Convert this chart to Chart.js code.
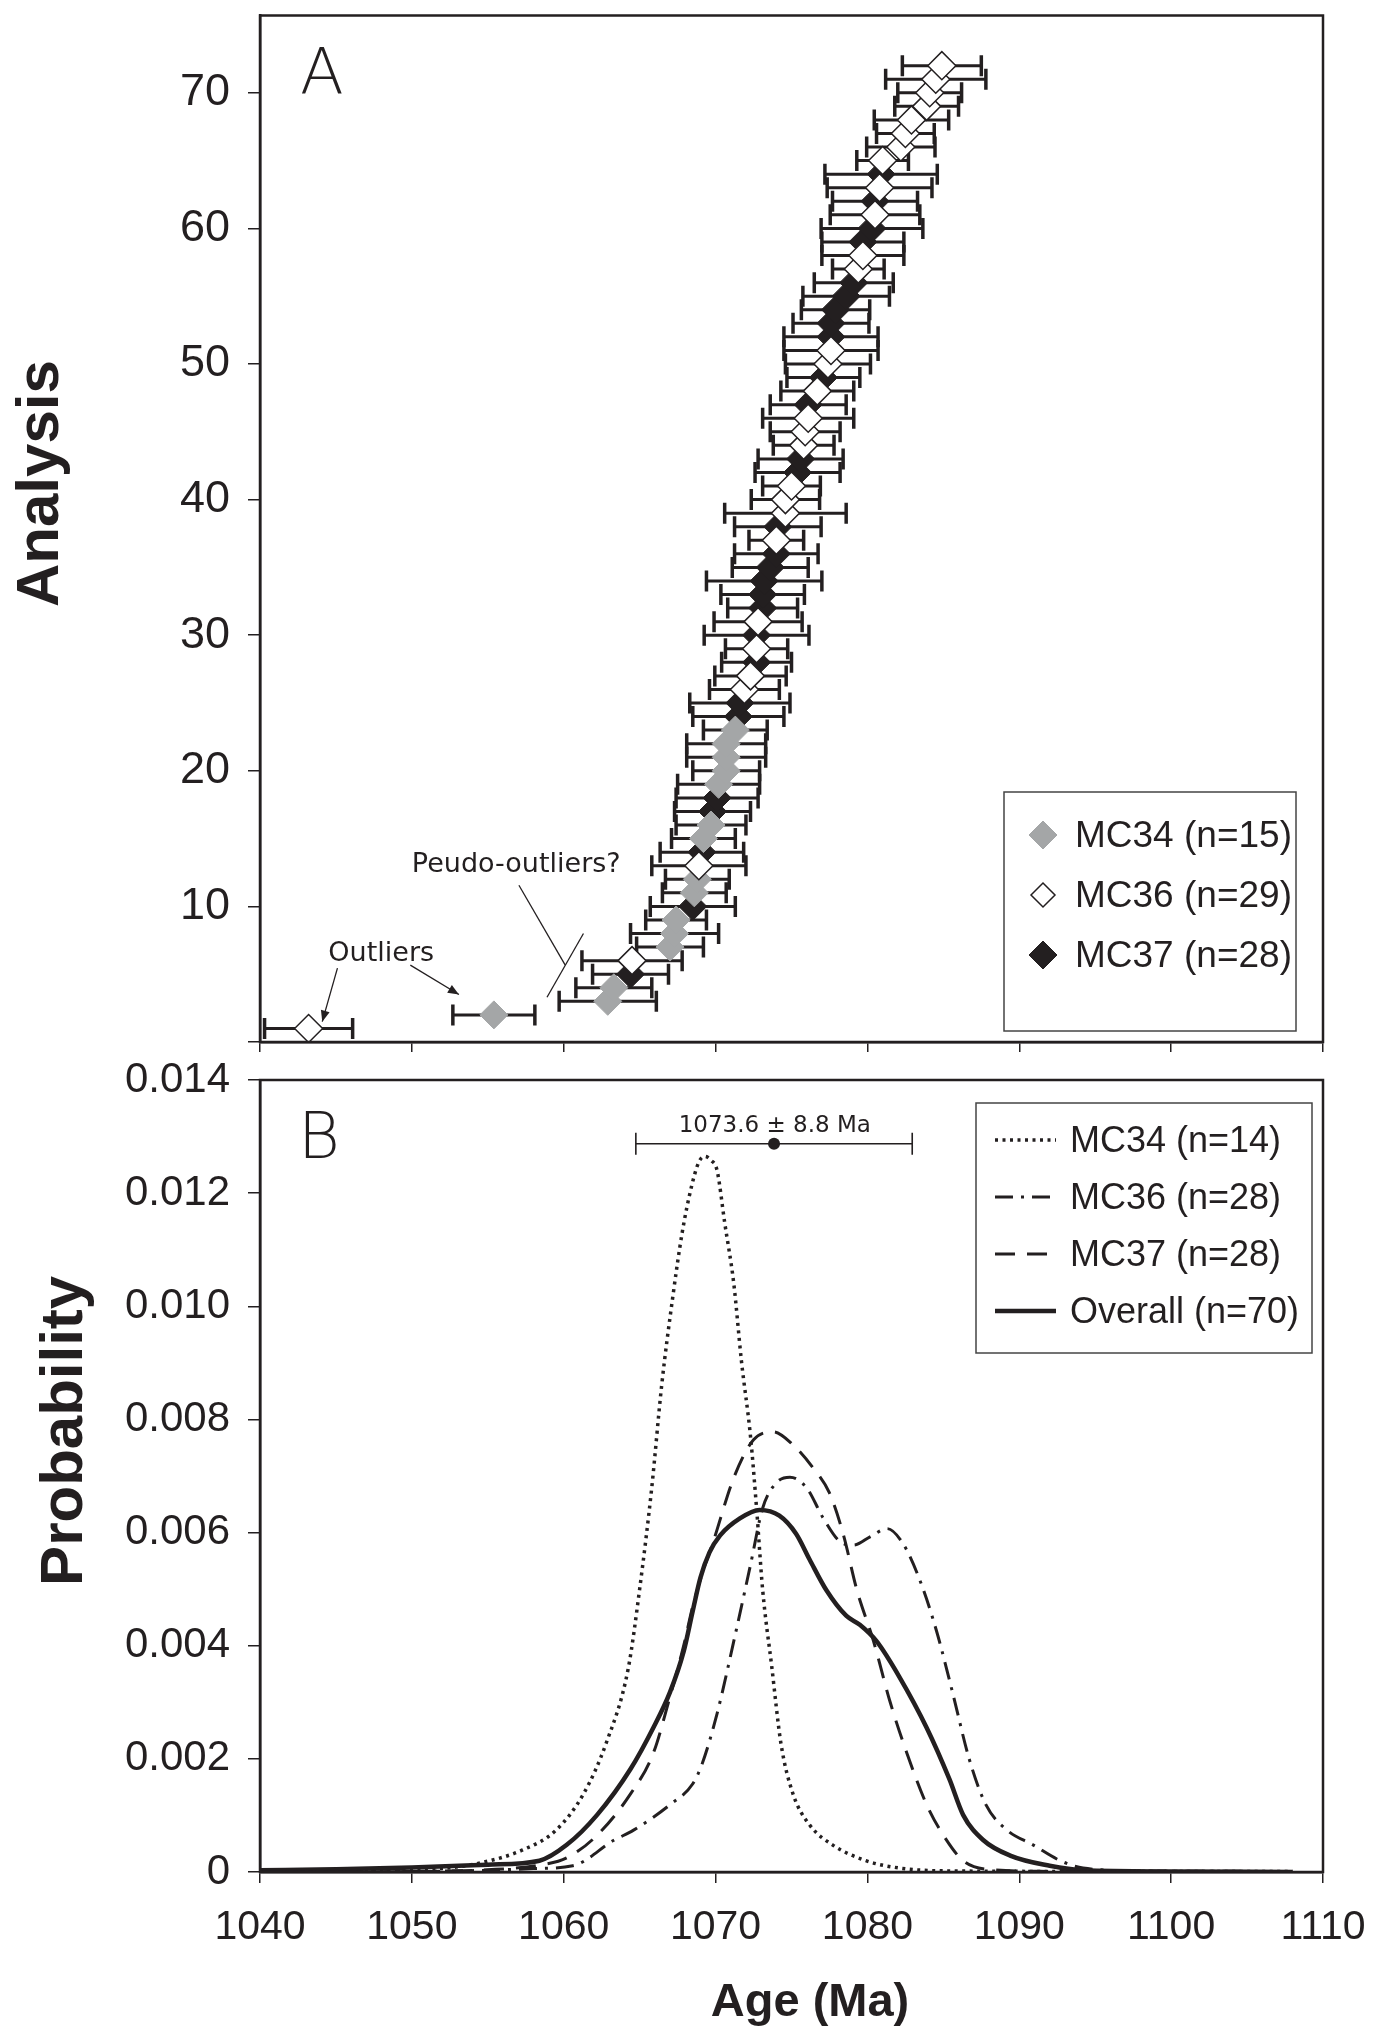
<!DOCTYPE html>
<html><head><meta charset="utf-8">
<script src="https://cdn.jsdelivr.net/npm/chart.js@4.4.1/dist/chart.umd.min.js"></script>
<style>
html,body{margin:0;padding:0;background:#fff;}
body{width:1382px;height:2030px;position:relative;overflow:hidden;}
canvas{position:absolute;left:0;}
#chartA{top:0;}
#chartB{top:1050px;}
</style></head><body>
<canvas id="chartA" width="1382" height="1060"></canvas>
<canvas id="chartB" width="1382" height="980"></canvas>
<script>
// ---------------- Panel A: individual analyses ----------------
const analysisNo = [1,2,3,4,5,6,7,8,9,10,11,12,13,14,15,16,17,18,19,20,21,22,23,24,25,26,27,28,29,30,31,32,33,34,35,36,
  37,38,39,40,41,42,43,44,45,46,47,48,49,50,51,52,53,54,55,56,57,58,59,60,61,62,63,64,65,66,67,68,69,70,71,72];
const ageMa = [1043.2,1055.4,1062.9,1063.3,1064.4,1064.5,1067.0,1067.3,1067.4,1068.5,1068.6,1068.8,1068.9,1069.1,1069.2,1069.7,
  1069.8,1070.1,1070.2,1070.7,1070.7,1070.7,1071.3,1071.5,1071.6,1071.9,1072.3,1072.7,1072.7,1072.7,1072.8,1073.1,1073.1,1073.2,
  1073.6,1074.0,1074.0,1074.1,1074.6,1074.6,1075.0,1075.4,1075.6,1075.8,1075.9,1076.1,1076.1,1076.7,1077.1,1077.4,1077.6,1077.6,
  1077.6,1077.9,1078.6,1079.1,1079.4,1079.7,1079.7,1080.3,1080.5,1080.5,1080.8,1080.9,1081.0,1082.2,1082.5,1082.9,1083.9,1084.1,
  1084.5,1084.9];
const ageErr = [2.9,2.7,3.2,2.5,2.5,3.3,2.2,2.9,2.0,2.8,2.1,2.1,3.1,2.75,2.1,2.3,2.5,2.7,2.7,2.2,2.6,2.6,2.1,3.0,3.3,2.3,2.35,
  2.3,2.05,3.45,2.9,2.3,2.75,3.8,2.5,2.75,1.8,2.85,4.0,2.25,1.9,2.8,2.8,2.0,2.3,3.0,2.5,2.4,2.4,2.8,3.1,3.1,2.5,2.25,2.85,2.6,
  1.7,2.7,2.7,3.35,2.95,2.8,3.45,3.7,1.7,2.25,1.9,2.45,2.1,2.1,3.3,2.6];
const sampleOf = ['MC36','MC34','MC34','MC34','MC37','MC36','MC34','MC34','MC34','MC37','MC34','MC34','MC36','MC37','MC34',
  'MC34','MC37','MC37','MC34','MC34','MC34','MC34','MC34','MC37','MC37','MC36','MC36','MC37','MC36','MC37','MC36','MC37','MC37',
  'MC37','MC37','MC37','MC36','MC37','MC36','MC36','MC36','MC37','MC37','MC36','MC36','MC36','MC37','MC36','MC37','MC36','MC36',
  'MC37','MC37','MC37','MC37','MC37','MC36','MC36','MC37','MC37','MC36','MC37','MC36','MC37','MC36','MC36','MC36','MC36','MC36',
  'MC36','MC36','MC36'];
const sampleNames = ['MC34','MC36','MC37'];
const sampleLabelsA = ['MC34 (n=15)','MC36 (n=29)','MC37 (n=28)'];
const ageTicks = [1040,1050,1060,1070,1080,1090,1100,1110];
const analysisTicks = [10,20,30,40,50,60,70];

// ---------------- Panel B: probability density curves ----------------
const mc34Age  = [1040,1045,1050,1052,1054.5,1057.3,1059.5,1061.3,1062.8,1064.25,1065.0,1065.8,1066.45,1067.2,1067.8,1068.4,1068.9,
  1069.3,1069.7,1070.1,1070.6,1071.2,1071.7,1072.3,1072.7,1073.1,1073.7,1074.3,1075.1,1076.2,1077.7,1079.9,1082.1,1085,1095,1108];
const mc34Prob = [0.00000,0.00001,0.00003,0.00006,0.00016,0.00039,0.00074,0.00138,0.00228,0.0036,0.0050,0.0068,0.0086,0.0102,0.0113,
  0.0121,0.01255,0.01265,0.01258,0.0124,0.01148,0.0104,0.00904,0.0077,0.00643,0.00499,0.00363,0.00228,0.00138,0.00083,0.00048,
  0.0002,0.00007,0.00002,0.00001,0.00001];
const mc36Age  = [1040,1050,1055,1058,1060.6,1063.3,1064.6,1067.0,1068.5,1069.1,1070.1,1071.2,1072.3,1073.1,1074.0,1074.9,1076.0,
  1077.1,1078.2,1079.1,1080.2,1081.3,1082.35,1083.45,1084.55,1085.6,1086.7,1087.8,1089.2,1090.9,1092.7,1094.2,1098,1107];
const mc36Prob = [0,0.00001,0.00003,0.00006,0.00011,0.00056,0.00074,0.00119,0.00156,0.0019,0.0028,0.00408,0.00543,0.00643,0.00688,
  0.00698,0.00679,0.00625,0.00584,0.00578,0.00593,0.00607,0.0058,0.00516,0.00426,0.00318,0.002,0.00119,0.00074,0.00048,0.0002,
  0.00007,0.00002,0.00001];
const mc37Age  = [1040,1050,1055,1058.4,1060.2,1062.2,1064.4,1065.9,1067.0,1067.9,1068.5,1069.2,1069.8,1071.2,1072.5,1073.8,1075.1,
  1076.4,1077.5,1078.4,1079.3,1080.4,1081.5,1082.6,1083.9,1085.0,1086.3,1087.8,1092,1100];
const mc37Prob = [0,0.00001,0.00004,0.00012,0.00025,0.00065,0.00138,0.0021,0.0031,0.0040,0.0047,0.00534,0.0058,0.00697,0.00764,
  0.00778,0.00755,0.00715,0.0067,0.00598,0.00499,0.00408,0.003,0.0021,0.00119,0.00065,0.0002,0.00005,0.00001,0];
const allAge   = [1040,1045,1050,1055,1058.4,1060.2,1062.2,1064.4,1065.9,1067.0,1067.9,1068.5,1069.0,1069.6,1070.3,1071.6,1072.9,
  1074.2,1075.3,1076.2,1077.3,1078.6,1079.5,1080.6,1082.1,1083.9,1085.4,1086.3,1087.6,1089.4,1092.0,1094.2,1100,1108];
const allProb  = [0.00003,0.00005,0.00008,0.00013,0.0002,0.00048,0.00101,0.00182,0.00255,0.00318,0.0039,0.00462,0.0052,0.00565,
  0.00595,0.00625,0.0064,0.0063,0.00598,0.00552,0.00498,0.00453,0.00437,0.00408,0.00345,0.00255,0.00164,0.00101,0.00057,0.00029,
  0.00011,0.00003,0.00001,0];
const curveLabels = ['MC34 (n=14)','MC36 (n=28)','MC37 (n=28)','Overall (n=70)'];
const probTicks = [0,0.002,0.004,0.006,0.008,0.010,0.012,0.014];
const meanAge = 1073.85, meanErr = 9.1, meanText = '1073.6 \u00b1 8.8 Ma';

// ---------------- styling ----------------
const INK = '#231f20', GREY = '#a4a6a7';
function hasFont(name){
  const c = document.createElement('canvas').getContext('2d');
  const s = '1070 1080 Age mmwwii';
  c.font = '40px monospace'; const w1 = c.measureText(s).width;
  c.font = '40px "' + name + '", monospace'; const w2 = c.measureText(s).width;
  return Math.abs(w1 - w2) > 0.5;
}
const narrowOK = hasFont('Liberation Sans Narrow');
const xTickFont = narrowOK ? {family:'"Liberation Sans Narrow"', size:48} : {family:'"Liberation Sans"', size:41};
const sansFam = '"Liberation Sans", Arial, sans-serif';
const gothic = '"DejaVu Sans", sans-serif';

Chart.defaults.color = INK;
Chart.defaults.font.family = sansFam;

function fixAxis(w, h){
  return function(s){
    if (w !== null) s.width = w;
    if (h !== null) s.height = h;
    s.paddingTop = 0; s.paddingBottom = 0; s.paddingLeft = 0; s.paddingRight = 0;
  };
}

// ---------------- Panel A datasets ----------------
const pointStyles = {
  MC34: {bg: GREY, bc: GREY, bw: 1, r: 14},
  MC36: {bg: '#ffffff', bc: INK, bw: 1.5, r: 14},
  MC37: {bg: INK, bc: INK, bw: 1, r: 14}
};
const drawOrder = {MC36: 0, MC34: 1, MC37: 2};
const scatterSets = sampleNames.map((s, k) => ({
  label: sampleLabelsA[k],
  data: analysisNo.map((n, i) => ({x: ageMa[i], y: n})).filter((p, i) => sampleOf[i] === s),
  pointStyle: 'rectRot',
  pointRadius: pointStyles[s].r,
  pointBackgroundColor: pointStyles[s].bg,
  pointBorderColor: pointStyles[s].bc,
  pointBorderWidth: pointStyles[s].bw,
  showLine: false,
  order: drawOrder[s]
}));
const errData = [];
analysisNo.forEach((n, i) => {
  errData.push({x: ageMa[i] - ageErr[i], y: n});
  errData.push({x: ageMa[i] + ageErr[i], y: n});
  errData.push({x: null, y: null});
});
const errSet = {
  label: 'error', data: errData, showLine: true, spanGaps: false,
  borderColor: INK, borderWidth: 3, pointStyle: 'line', rotation: 90,
  pointRadius: 10.5, pointBorderColor: INK, pointBorderWidth: 3.5, pointBackgroundColor: INK,
  order: 10
};

function arrow(ctx, x1, y1, x2, y2){
  ctx.beginPath(); ctx.moveTo(x1, y1); ctx.lineTo(x2, y2); ctx.stroke();
  const a = Math.atan2(y2 - y1, x2 - x1), L = 11, W = 4.5;
  ctx.beginPath();
  ctx.moveTo(x2, y2);
  ctx.lineTo(x2 - L*Math.cos(a) + W*Math.sin(a), y2 - L*Math.sin(a) - W*Math.cos(a));
  ctx.lineTo(x2 - L*Math.cos(a) - W*Math.sin(a), y2 - L*Math.sin(a) + W*Math.cos(a));
  ctx.closePath(); ctx.fill();
}

const notesA = {
  outliersText: {age: 1044.5, n: 6.0},
  outlierArrows: [[1045.1, 5.45, 1044.1, 1.5], [1049.9, 5.67, 1053.1, 3.5]],
  pseudoText: {age: 1050.0, n: 12.5},
  pseudoLines: [[1057.05, 11.56, 1060.1, 5.67], [1061.3, 8.0, 1058.9, 3.3]]
};

const plugA = {
  id: 'plugA',
  afterDatasetsDraw(chart){
    const {ctx, chartArea: ca, scales: {x, y}} = chart;
    ctx.save();
    ctx.strokeStyle = INK; ctx.fillStyle = INK;
    ctx.lineWidth = 2.5;
    ctx.strokeRect(ca.left, ca.top, ca.right - ca.left, ca.bottom - ca.top);
    // panel letter
    ctx.font = '200 64px ' + gothic; ctx.textAlign = 'left'; ctx.textBaseline = 'alphabetic';
    ctx.fillText('A', ca.left + 40, ca.top + 78);
    // notes
    ctx.font = '27px ' + gothic;
    ctx.fillText('Outliers', x.getPixelForValue(notesA.outliersText.age), y.getPixelForValue(notesA.outliersText.n));
    ctx.fillText('Peudo-outliers?', x.getPixelForValue(notesA.pseudoText.age), y.getPixelForValue(notesA.pseudoText.n));
    ctx.lineWidth = 1.3;
    notesA.outlierArrows.forEach(a => arrow(ctx, x.getPixelForValue(a[0]), y.getPixelForValue(a[1]), x.getPixelForValue(a[2]), y.getPixelForValue(a[3])));
    notesA.pseudoLines.forEach(a => { ctx.beginPath(); ctx.moveTo(x.getPixelForValue(a[0]), y.getPixelForValue(a[1])); ctx.lineTo(x.getPixelForValue(a[2]), y.getPixelForValue(a[3])); ctx.stroke(); });
    // legend
    const lx = ca.right - 319, ly = ca.bottom - 250, lw = 292, lh = 239;
    ctx.fillStyle = '#fff'; ctx.fillRect(lx, ly, lw, lh);
    ctx.strokeStyle = '#444'; ctx.lineWidth = 1.5; ctx.strokeRect(lx, ly, lw, lh);
    ctx.font = '37px ' + sansFam; ctx.textBaseline = 'middle';
    sampleNames.forEach((s, k) => {
      const cy = ly + 43 + k*60, st = pointStyles[s];
      ctx.fillStyle = st.bg; ctx.strokeStyle = st.bc; ctx.lineWidth = st.bw;
      Chart.helpers.drawPoint(ctx, {pointStyle: 'rectRot', radius: s === 'MC36' ? 12 : 14, borderWidth: st.bw, rotation: 0}, lx + 39, cy);
      ctx.fillStyle = INK;
      ctx.fillText(sampleLabelsA[k], lx + 71, cy + 2);
    });
    // axis title
    ctx.save();
    ctx.translate(41, ca.top + (ca.bottom - ca.top)*0.456);
    ctx.rotate(-Math.PI/2);
    ctx.font = 'bold 60px ' + sansFam; ctx.textAlign = 'center'; ctx.textBaseline = 'middle';
    ctx.fillText('Analysis', 0, 0);
    ctx.restore();
    ctx.restore();
  }
};

new Chart(document.getElementById('chartA'), {
  type: 'scatter',
  data: {datasets: [...scatterSets, errSet]},
  options: {
    responsive: false, animation: false, events: [],
    layout: {padding: {left: 0, top: 13, right: 59, bottom: 0}},
    plugins: {legend: {display: false}, tooltip: {enabled: false}},
    scales: {
      x: {
        type: 'linear', position: 'bottom', min: ageTicks[0], max: ageTicks[ageTicks.length-1],
        afterBuildTicks: s => { s.ticks = ageTicks.map(v => ({value: v})); },
        ticks: {display: false},
        grid: {drawOnChartArea: false, drawTicks: true, tickLength: 10, color: INK, lineWidth: 1.5},
        border: {display: true, color: INK, width: 2.5},
        afterFit: fixAxis(null, 18)
      },
      y: {
        type: 'linear', min: 0, max: 75.7,
        afterBuildTicks: s => { s.ticks = [0, ...analysisTicks].map(v => ({value: v})); },
        ticks: {font: {size: 45, family: sansFam}, color: INK, padding: 18, callback: v => v === 0 ? '' : String(v)},
        grid: {drawOnChartArea: false, drawTicks: true, tickLength: 12, color: INK, lineWidth: 1.5},
        border: {display: true, color: INK, width: 2.5},
        afterFit: fixAxis(260, null)
      }
    }
  },
  plugins: [plugA]
});

// ---------------- Panel B ----------------
const curveStyles = [
  {w: 3.5, dash: [3, 4.5]},
  {w: 3, dash: [18, 8, 3, 8]},
  {w: 3, dash: [20, 12]},
  {w: 4.5, dash: []}
];
const curveAges = [mc34Age, mc36Age, mc37Age, allAge];
const curveProbs = [mc34Prob, mc36Prob, mc37Prob, allProb];
const curveSets = curveLabels.map((lab, k) => ({
  label: lab,
  data: curveAges[k].map((a, i) => ({x: a, y: curveProbs[k][i]})),
  showLine: true, borderColor: INK, borderWidth: curveStyles[k].w, borderDash: curveStyles[k].dash,
  pointRadius: 0, fill: false, cubicInterpolationMode: 'monotone', borderCapStyle: 'butt'
}));

const plugB = {
  id: 'plugB',
  afterDatasetsDraw(chart){
    const {ctx, chartArea: ca, scales: {x, y}} = chart;
    ctx.save();
    ctx.strokeStyle = INK; ctx.fillStyle = INK;
    ctx.lineWidth = 2.5;
    ctx.strokeRect(ca.left, ca.top, ca.right - ca.left, ca.bottom - ca.top);
    ctx.font = '200 64px ' + gothic; ctx.textAlign = 'left'; ctx.textBaseline = 'alphabetic';
    ctx.fillText('B', ca.left + 38, ca.top + 78);
    // weighted mean bar
    const yb = y.getPixelForValue(0.012873);
    const x1 = x.getPixelForValue(meanAge - meanErr), x2 = x.getPixelForValue(meanAge + meanErr), xm = x.getPixelForValue(meanAge);
    ctx.lineWidth = 1.6;
    ctx.beginPath(); ctx.moveTo(x1, yb); ctx.lineTo(x2, yb);
    ctx.moveTo(x1, yb - 11); ctx.lineTo(x1, yb + 11);
    ctx.moveTo(x2, yb - 11); ctx.lineTo(x2, yb + 11); ctx.stroke();
    ctx.beginPath(); ctx.arc(xm, yb, 6, 0, Math.PI*2); ctx.fill();
    ctx.font = '23px ' + gothic; ctx.textAlign = 'center';
    ctx.fillText(meanText, x.getPixelForValue(1073.9), y.getPixelForValue(0.013086));
    // legend
    const lx = ca.right - 347, ly = ca.top + 23, lw = 336, lh = 250;
    ctx.fillStyle = '#fff'; ctx.fillRect(lx, ly, lw, lh);
    ctx.fillStyle = INK;
    ctx.strokeStyle = '#444'; ctx.lineWidth = 1.5; ctx.strokeRect(lx, ly, lw, lh);
    ctx.font = '36px ' + sansFam; ctx.textAlign = 'left'; ctx.textBaseline = 'middle';
    curveLabels.forEach((lab, k) => {
      const cy = ly + 37 + k*57;
      ctx.strokeStyle = INK; ctx.lineWidth = curveStyles[k].w; ctx.setLineDash(curveStyles[k].dash);
      ctx.beginPath(); ctx.moveTo(lx + 19, cy); ctx.lineTo(lx + 80, cy); ctx.stroke();
      ctx.setLineDash([]);
      ctx.fillText(lab, lx + 94, cy + 2);
    });
    // axis titles
    ctx.font = 'bold 60px ' + sansFam; ctx.textAlign = 'center'; ctx.textBaseline = 'middle';
    ctx.save();
    ctx.translate(65, ca.top + (ca.bottom - ca.top)*0.443);
    ctx.rotate(-Math.PI/2);
    ctx.fillText('Probability', 0, 0);
    ctx.restore();
    ctx.font = 'bold 47px ' + sansFam;
    ctx.fillText('Age (Ma)', 810, ca.bottom + 131);
    ctx.restore();
  }
};

new Chart(document.getElementById('chartB'), {
  type: 'scatter',
  data: {datasets: curveSets},
  options: {
    responsive: false, animation: false, events: [],
    layout: {padding: {left: 0, top: 30, right: 59, bottom: 0}},
    plugins: {legend: {display: false}, tooltip: {enabled: false}},
    scales: {
      x: {
        type: 'linear', position: 'bottom', min: ageTicks[0], max: ageTicks[ageTicks.length-1],
        afterBuildTicks: s => { s.ticks = ageTicks.map(v => ({value: v})); },
        ticks: {font: xTickFont, color: INK, padding: 20, maxRotation: 0, autoSkip: false, callback: v => String(v)},
        grid: {drawOnChartArea: false, drawTicks: true, tickLength: 11, color: INK, lineWidth: 1.5},
        border: {display: true, color: INK, width: 2.5},
        afterFit: fixAxis(null, 158)
      },
      y: {
        type: 'linear', min: 0, max: 0.014,
        afterBuildTicks: s => { s.ticks = probTicks.map(v => ({value: v})); },
        ticks: {font: {size: 42, family: sansFam}, color: INK, padding: 18, callback: v => v === 0 ? '0' : v.toFixed(3)},
        grid: {drawOnChartArea: false, drawTicks: true, tickLength: 12, color: INK, lineWidth: 1.5},
        border: {display: true, color: INK, width: 2.5},
        afterFit: fixAxis(260, null)
      }
    }
  },
  plugins: [plugB]
});
</script>
</body></html>
